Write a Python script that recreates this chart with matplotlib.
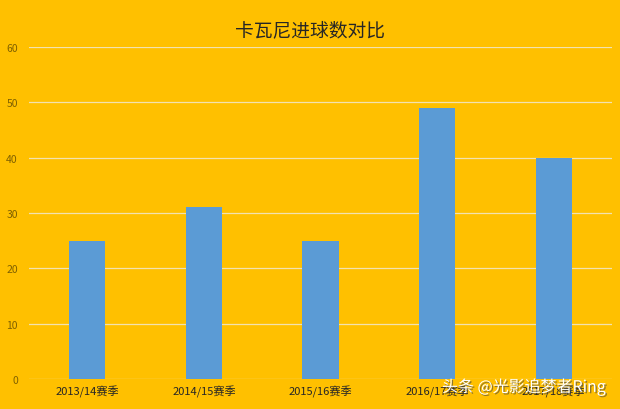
import matplotlib.pyplot as plt
import matplotlib.patheffects as pe

plt.rcParams['font.family'] = ['Noto Sans CJK SC', 'DejaVu Sans']

seasons = ['2013/14赛季', '2014/15赛季', '2015/16赛季', '2016/17赛季', '2017/18赛季']
goals = [25, 31, 25, 49, 40]
yticks = [0, 10, 20, 30, 40, 50, 60]

bg = '#FFC000'
fig = plt.figure(figsize=(6.2, 4.1), dpi=100, facecolor=bg)
ax = fig.add_axes([29 / 620, 1 - 380 / 410, 583 / 620, 332 / 410], facecolor=bg)

ax.bar(range(len(seasons)), goals, width=0.31, color='#5B9BD5', zorder=3)

ax.set_xlim(-0.5, len(seasons) - 0.5)
ax.set_ylim(0, 60)
ax.set_yticks(yticks)
ax.set_xticks(range(len(seasons)))
ax.set_xticklabels(seasons, fontsize=8, color='#262626')
ax.tick_params(axis='y', labelsize=7.5, labelcolor='#7F6000', length=0, pad=8)
ax.tick_params(axis='x', length=0, pad=4)
ax.grid(axis='y', color='#F2E2B0', linewidth=0.9, zorder=0)
for s in ax.spines.values():
    s.set_visible(False)

fig.text(0.5, 1 - 31 / 410, '卡瓦尼进球数对比', ha='center', va='center',
         fontsize=13.5, color='#262626')

# watermark
fig.text(442 / 620, 1 - 388 / 410, '头条 @光影追梦者Ring', ha='left', va='center',
         fontsize=11.5, color='white',
         path_effects=[pe.withSimplePatchShadow(offset=(1, -1), shadow_rgbFace='#444444', alpha=0.6)])

fig.savefig('out.png', dpi=100, facecolor=bg)
